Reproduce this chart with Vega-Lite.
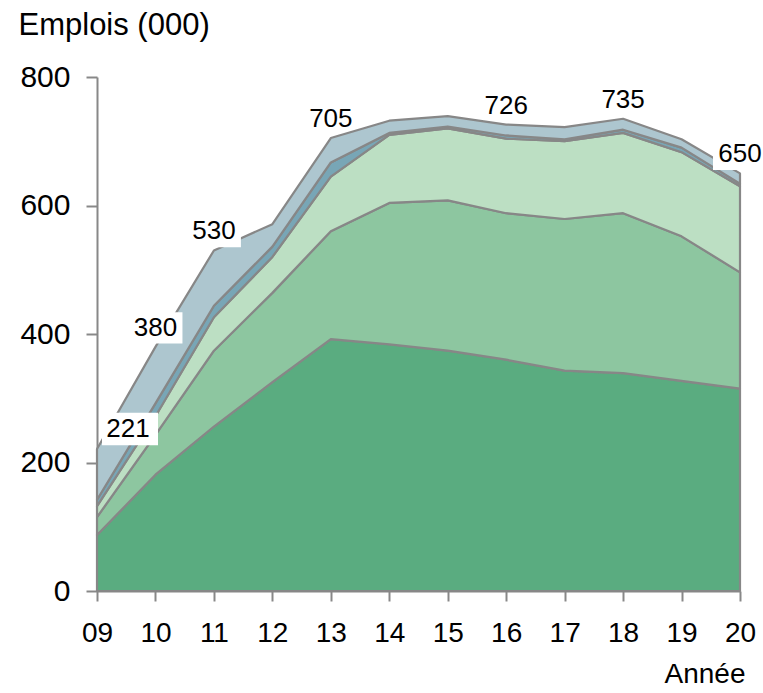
{
  "$schema": "https://vega.github.io/schema/vega-lite/v6.json",
  "width": 643,
  "height": 514,
  "autosize": {"type": "none"},
  "padding": {"left": 97, "top": 77, "right": 23, "bottom": 102},
  "background": "white",
  "config": {
    "view": {"stroke": null},
    "font": "Liberation Sans",
    "axis": {"grid": false, "labelColor": "black", "titleColor": "black", "titleFontWeight": "normal", "domainColor": "#888888", "tickColor": "#888888", "domainWidth": 2, "tickWidth": 2, "labelFont": "Liberation Sans", "titleFont": "Liberation Sans"}
  },
  "data": {
    "values": [
      {"annee": "09", "serie": "Série 1", "rang": 1, "valeur": 87},
      {"annee": "09", "serie": "Série 2", "rang": 2, "valeur": 28},
      {"annee": "09", "serie": "Série 3", "rang": 3, "valeur": 17},
      {"annee": "09", "serie": "Série 4", "rang": 4, "valeur": 10},
      {"annee": "09", "serie": "Série 5", "rang": 5, "valeur": 79},
      {"annee": "10", "serie": "Série 1", "rang": 1, "valeur": 181},
      {"annee": "10", "serie": "Série 2", "rang": 2, "valeur": 62},
      {"annee": "10", "serie": "Série 3", "rang": 3, "valeur": 29},
      {"annee": "10", "serie": "Série 4", "rang": 4, "valeur": 20},
      {"annee": "10", "serie": "Série 5", "rang": 5, "valeur": 88},
      {"annee": "11", "serie": "Série 1", "rang": 1, "valeur": 256},
      {"annee": "11", "serie": "Série 2", "rang": 2, "valeur": 118},
      {"annee": "11", "serie": "Série 3", "rang": 3, "valeur": 52},
      {"annee": "11", "serie": "Série 4", "rang": 4, "valeur": 18},
      {"annee": "11", "serie": "Série 5", "rang": 5, "valeur": 86},
      {"annee": "12", "serie": "Série 1", "rang": 1, "valeur": 325},
      {"annee": "12", "serie": "Série 2", "rang": 2, "valeur": 139},
      {"annee": "12", "serie": "Série 3", "rang": 3, "valeur": 56},
      {"annee": "12", "serie": "Série 4", "rang": 4, "valeur": 16},
      {"annee": "12", "serie": "Série 5", "rang": 5, "valeur": 35},
      {"annee": "13", "serie": "Série 1", "rang": 1, "valeur": 392},
      {"annee": "13", "serie": "Série 2", "rang": 2, "valeur": 168},
      {"annee": "13", "serie": "Série 3", "rang": 3, "valeur": 85},
      {"annee": "13", "serie": "Série 4", "rang": 4, "valeur": 22},
      {"annee": "13", "serie": "Série 5", "rang": 5, "valeur": 38},
      {"annee": "14", "serie": "Série 1", "rang": 1, "valeur": 384},
      {"annee": "14", "serie": "Série 2", "rang": 2, "valeur": 220},
      {"annee": "14", "serie": "Série 3", "rang": 3, "valeur": 106},
      {"annee": "14", "serie": "Série 4", "rang": 4, "valeur": 3},
      {"annee": "14", "serie": "Série 5", "rang": 5, "valeur": 19},
      {"annee": "15", "serie": "Série 1", "rang": 1, "valeur": 374},
      {"annee": "15", "serie": "Série 2", "rang": 2, "valeur": 234},
      {"annee": "15", "serie": "Série 3", "rang": 3, "valeur": 112},
      {"annee": "15", "serie": "Série 4", "rang": 4, "valeur": 3},
      {"annee": "15", "serie": "Série 5", "rang": 5, "valeur": 16},
      {"annee": "16", "serie": "Série 1", "rang": 1, "valeur": 360},
      {"annee": "16", "serie": "Série 2", "rang": 2, "valeur": 228},
      {"annee": "16", "serie": "Série 3", "rang": 3, "valeur": 116},
      {"annee": "16", "serie": "Série 4", "rang": 4, "valeur": 5},
      {"annee": "16", "serie": "Série 5", "rang": 5, "valeur": 17},
      {"annee": "17", "serie": "Série 1", "rang": 1, "valeur": 343},
      {"annee": "17", "serie": "Série 2", "rang": 2, "valeur": 236},
      {"annee": "17", "serie": "Série 3", "rang": 3, "valeur": 121},
      {"annee": "17", "serie": "Série 4", "rang": 4, "valeur": 3},
      {"annee": "17", "serie": "Série 5", "rang": 5, "valeur": 19},
      {"annee": "18", "serie": "Série 1", "rang": 1, "valeur": 339},
      {"annee": "18", "serie": "Série 2", "rang": 2, "valeur": 249},
      {"annee": "18", "serie": "Série 3", "rang": 3, "valeur": 125},
      {"annee": "18", "serie": "Série 4", "rang": 4, "valeur": 5},
      {"annee": "18", "serie": "Série 5", "rang": 5, "valeur": 17},
      {"annee": "19", "serie": "Série 1", "rang": 1, "valeur": 327},
      {"annee": "19", "serie": "Série 2", "rang": 2, "valeur": 225},
      {"annee": "19", "serie": "Série 3", "rang": 3, "valeur": 131},
      {"annee": "19", "serie": "Série 4", "rang": 4, "valeur": 7},
      {"annee": "19", "serie": "Série 5", "rang": 5, "valeur": 13},
      {"annee": "20", "serie": "Série 1", "rang": 1, "valeur": 315},
      {"annee": "20", "serie": "Série 2", "rang": 2, "valeur": 181},
      {"annee": "20", "serie": "Série 3", "rang": 3, "valeur": 134},
      {"annee": "20", "serie": "Série 4", "rang": 4, "valeur": 4},
      {"annee": "20", "serie": "Série 5", "rang": 5, "valeur": 16}
    ]
  },
  "layer": [
    {
      "mark": {"type": "area", "stroke": "#878787", "strokeWidth": 2.2, "strokeJoin": "round", "opacity": 1},
      "encoding": {
        "x": {
          "field": "annee", "type": "ordinal",
          "scale": {"type": "point", "padding": 0},
          "axis": {"title": "Année", "titleFontSize": 28, "titleAlign": "right", "titleAnchor": "end", "titleX": 648, "titleY": 91, "titleBaseline": "alphabetic", "labelAngle": 0, "labelFontSize": 28, "labelBaseline": "middle", "labelPadding": 32, "tickSize": 10}
        },
        "y": {
          "field": "valeur", "type": "quantitative", "stack": "zero",
          "scale": {"domain": [0, 800], "nice": false},
          "axis": {"title": "Emplois (000)", "titleFontSize": 31, "titleAngle": 0, "titleAlign": "left", "titleX": -79, "titleY": -43, "titleBaseline": "alphabetic", "values": [0, 200, 400, 600, 800], "labelFontSize": 30, "labelPadding": 16, "tickSize": 11}
        },
        "color": {
          "field": "serie", "type": "nominal",
          "scale": {"domain": ["Série 1", "Série 2", "Série 3", "Série 4", "Série 5"], "range": ["#5aac80", "#8dc6a0", "#bcdfc3", "#78a6b6", "#adc6cf"]},
          "legend": null
        },
        "order": {"field": "rang", "type": "quantitative", "sort": "ascending"}
      }
    },
    {
      "transform": [
        {"aggregate": [{"op": "sum", "field": "valeur", "as": "valeur"}], "groupby": ["annee"]},
        {"filter": {"field": "annee", "oneOf": ["10", "11", "20"]}}
      ],
      "mark": {"type": "point", "shape": "M-1,-0.58L1,-0.58L1,0.58L-1,0.58Z", "filled": true, "color": "white", "opacity": 1, "size": 2916, "strokeWidth": 0, "yOffset": -19},
      "encoding": {
        "x": {"field": "annee", "type": "ordinal"},
        "y": {"field": "valeur", "type": "quantitative"}
      }
    },
    {
      "transform": [
        {"aggregate": [{"op": "sum", "field": "valeur", "as": "valeur"}], "groupby": ["annee"]},
        {"filter": {"field": "annee", "oneOf": ["09"]}}
      ],
      "mark": {"type": "point", "shape": "M-1,-0.58L1,-0.58L1,0.58L-1,0.58Z", "filled": true, "color": "white", "opacity": 1, "size": 3136, "strokeWidth": 0, "xOffset": 33, "yOffset": -20},
      "encoding": {
        "x": {"field": "annee", "type": "ordinal"},
        "y": {"field": "valeur", "type": "quantitative"}
      }
    },
    {
      "transform": [
        {"aggregate": [{"op": "sum", "field": "valeur", "as": "valeur"}], "groupby": ["annee"]},
        {"filter": {"field": "annee", "oneOf": ["10", "11", "13", "16", "18", "20"]}}
      ],
      "mark": {"type": "text", "fontSize": 26, "color": "black", "baseline": "middle", "align": "center", "dy": -19},
      "encoding": {
        "x": {"field": "annee", "type": "ordinal"},
        "y": {"field": "valeur", "type": "quantitative"},
        "text": {"field": "valeur", "type": "quantitative"}
      }
    },
    {
      "transform": [
        {"aggregate": [{"op": "sum", "field": "valeur", "as": "valeur"}], "groupby": ["annee"]},
        {"filter": {"field": "annee", "oneOf": ["09"]}}
      ],
      "mark": {"type": "text", "fontSize": 26, "color": "black", "baseline": "middle", "align": "center", "dx": 31, "dy": -20},
      "encoding": {
        "x": {"field": "annee", "type": "ordinal"},
        "y": {"field": "valeur", "type": "quantitative"},
        "text": {"field": "valeur", "type": "quantitative"}
      }
    }
  ]
}
